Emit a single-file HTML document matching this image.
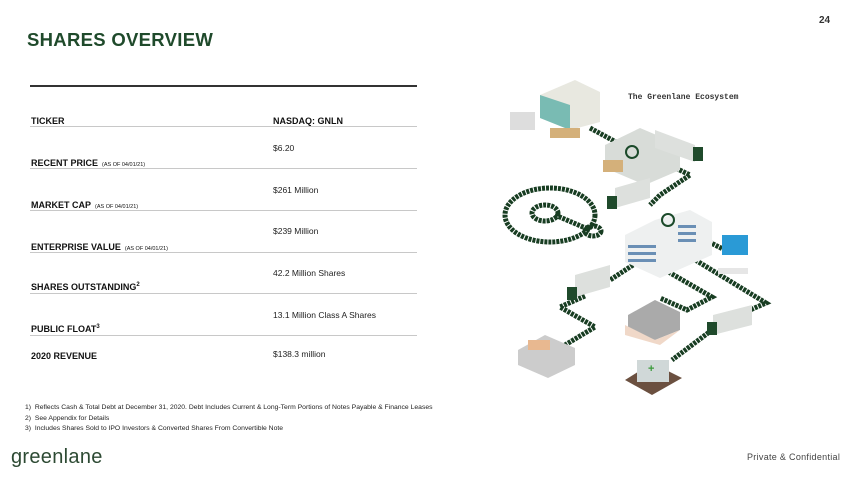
<!DOCTYPE html>
<html><head><meta charset="utf-8"><style>
body{margin:0;width:850px;height:477px;background:#fff;position:relative;overflow:hidden;font-family:"Liberation Sans",sans-serif;}
.a{position:absolute;white-space:nowrap;}
.t{font-size:18.5px;font-weight:bold;color:#1f4a2b;letter-spacing:0.3px;}
.lab{font-size:9px;font-weight:bold;color:#111;}
.lab small{font-size:5.5px;font-weight:normal;margin-left:4px;}
.lab sup{font-size:6px;}
.val{font-size:8.5px;color:#222;}
.ln{position:absolute;left:30px;width:387px;height:1px;background:#c8c8c8;}
.fn{font-size:6.8px;color:#222;}
</style></head><body>
<div class="a t" style="left:27px;top:29px;">SHARES OVERVIEW</div>
<div class="a" style="left:819px;top:15px;font-size:10px;font-weight:bold;color:#333;">24</div>
<div class="a" style="left:30px;top:85px;width:387px;height:2px;background:#333;"></div>

<div class="a lab" style="left:31px;top:116px;">TICKER</div>
<div class="a lab" style="left:273px;top:116px;">NASDAQ: GNLN</div>
<div class="ln" style="top:126px"></div>
<div class="a val" style="left:273px;top:143px;">$6.20</div>
<div class="a lab" style="left:31px;top:158px;">RECENT PRICE<small>(AS OF 04/01/21)</small></div>
<div class="ln" style="top:168px"></div>
<div class="a val" style="left:273px;top:185px;">$261 Million</div>
<div class="a lab" style="left:31px;top:200px;">MARKET CAP<small>(AS OF 04/01/21)</small></div>
<div class="ln" style="top:210px"></div>
<div class="a val" style="left:273px;top:226px;">$239 Million</div>
<div class="a lab" style="left:31px;top:242px;">ENTERPRISE VALUE<small>(AS OF 04/01/21)</small></div>
<div class="ln" style="top:252px"></div>
<div class="a val" style="left:273px;top:268px;">42.2 Million Shares</div>
<div class="a lab" style="left:31px;top:282px;">SHARES OUTSTANDING<sup>2</sup></div>
<div class="ln" style="top:293px"></div>
<div class="a val" style="left:273px;top:310px;">13.1 Million Class A Shares</div>
<div class="a lab" style="left:31px;top:324px;">PUBLIC FLOAT<sup>3</sup></div>
<div class="ln" style="top:335px"></div>
<div class="a val" style="left:273px;top:349px;">$138.3 million</div>
<div class="a lab" style="left:31px;top:351px;">2020 REVENUE</div>

<div class="a fn" style="left:25px;top:404px;">1)&nbsp; Reflects Cash &amp; Total Debt at December 31, 2020. Debt Includes Current &amp; Long-Term Portions of Notes Payable &amp; Finance Leases</div>
<div class="a fn" style="left:25px;top:415px;">2)&nbsp; See Appendix for Details</div>
<div class="a fn" style="left:25px;top:425px;">3)&nbsp; Includes Shares Sold to IPO Investors &amp; Converted Shares From Convertible Note</div>

<div class="a" style="left:11px;top:446px;font-size:20px;color:#2d4a33;letter-spacing:0.3px;">greenlane</div>
<div class="a" style="left:747px;top:452px;font-size:9px;color:#444;letter-spacing:0.3px;">Private &amp; Confidential</div>

<svg class="a" style="left:490px;top:70px" width="300" height="330" viewBox="490 70 300 330">
<g fill="none" stroke="#183d22" stroke-width="5" stroke-dasharray="3 1">
<path d="M590 128 L640 155"/>
<path d="M665 163 L690 175 L660 195 L650 205"/>
<ellipse cx="550" cy="215" rx="45" ry="27"/>
<ellipse cx="545" cy="213" rx="13" ry="8"/>
<path d="M555 215 L590 230"/>
<ellipse cx="593" cy="231" rx="8" ry="5"/>
<path d="M633 265 L610 280 M585 296 L560 307 L595 327 L565 345"/>
<path d="M665 270 L712 297 L687 310 L660 298"/>
<path d="M692 258 L766 303 L750 310 M712 330 L672 360"/>
<path d="M705 240 L725 250"/>
</g>
<text x="628" y="99" font-size="8" font-weight="bold" fill="#333" font-family="Liberation Mono,monospace">The Greenlane Ecosystem</text>
<polygon points="540,95 575,80 600,92 600,122 570,130 540,118" fill="#e8e8e0"/>
<polygon points="540,95 570,105 570,130 540,118" fill="#4aa8a0" opacity=".7"/>
<rect x="510" y="112" width="25" height="18" fill="#ddd"/>
<rect x="550" y="128" width="30" height="10" fill="#d4b07a"/>
<polygon points="605,145 640,128 680,145 680,170 645,185 605,168" fill="#d8dcd8"/>
<circle cx="632" cy="152" r="6" fill="none" stroke="#1b4a2a" stroke-width="2"/>
<rect x="603" y="160" width="20" height="12" fill="#d4b07a"/>
<g fill="#dde0dd"><polygon points="655,130 695,145 695,162 655,148"/><polygon points="615,188 650,178 650,198 615,208"/>
<polygon points="575,275 610,265 610,287 575,297"/><polygon points="713,315 752,305 752,325 713,335"/></g>
<g fill="#1f4a2b"><rect x="693" y="147" width="10" height="14"/><rect x="607" y="196" width="10" height="13"/><rect x="567" y="287" width="10" height="13"/><rect x="707" y="322" width="10" height="13"/></g>
<polygon points="625,235 655,220 690,210 712,222 712,255 660,278 625,262" fill="#eef0f0"/>
<g fill="#6a8fb5"><rect x="628" y="245" width="28" height="3"/><rect x="628" y="252" width="28" height="3"/><rect x="628" y="259" width="28" height="3"/><rect x="678" y="225" width="18" height="3"/><rect x="678" y="232" width="18" height="3"/><rect x="678" y="239" width="18" height="3"/></g>
<circle cx="668" cy="220" r="6" fill="none" stroke="#1b4a2a" stroke-width="2"/>
<rect x="722" y="235" width="26" height="20" fill="#2a9ad6"/><rect x="718" y="268" width="30" height="6" fill="#e6e6e6"/>
<polygon points="628,315 655,300 680,312 680,330 655,340 628,330" fill="#aaa"/>
<polygon points="625,325 655,340 680,330 660,345 625,335" fill="#f0d8c8"/>
<polygon points="518,350 545,335 575,348 575,365 548,378 518,365" fill="#ccc"/>
<rect x="528" y="340" width="22" height="10" fill="#e8b890"/>
<polygon points="625,380 652,363 682,378 652,395" fill="#6b5040"/>
<rect x="637" y="360" width="32" height="22" fill="#d0d8d8"/>
<text x="648" y="372" font-size="11" font-weight="bold" fill="#3a9a3a">+</text>
</svg>
</body></html>
